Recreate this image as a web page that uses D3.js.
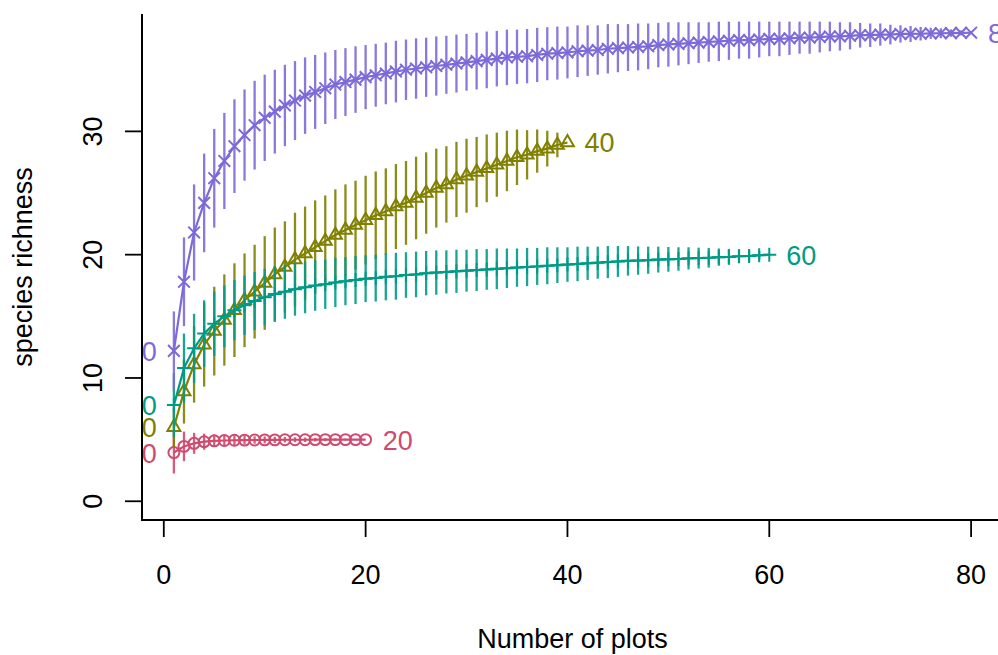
<!DOCTYPE html>
<html>
<head>
<meta charset="utf-8">
<script src="https://cdn.jsdelivr.net/npm/d3@7"></script>
<style>
  body { margin: 0; background: #fff; }
  svg  { display: block; }
  text { font-family: "Liberation Sans", Arial, Helvetica, sans-serif; }
</style>
</head>
<body>
<div id="chart"></div>
<script>
"use strict";

// ── Data ──────────────────────────────────────────────────────────────────────
// richness = mean species richness for 1..N plots, bar = half length of the bar
const rich20 = [3.95, 4.45, 4.7, 4.83, 4.9, 4.93, 4.95, 4.96, 4.97, 4.98,
                4.98, 4.99, 4.99, 4.99, 5.0, 5.0, 5.0, 5.0, 5.0, 5.0];
const bar20  = [1.7, 1.2, 0.85, 0.65, 0.5, 0.45, 0.4, 0.35, 0.3, 0.28,
                0.25, 0.22, 0.2, 0.18, 0.15, 0.12, 0.1, 0.08, 0.05, 0];

const rich40 = [6.0, 8.9, 11.1, 12.7, 13.8, 14.7, 15.5, 16.3, 17.0, 17.7,
                18.4, 19.0, 19.6, 20.1, 20.6, 21.1, 21.6, 22.0, 22.4, 22.8,
                23.2, 23.5, 23.9, 24.2, 24.6, 25.0, 25.4, 25.7, 26.1, 26.4,
                26.7, 27.0, 27.3, 27.6, 27.9, 28.1, 28.4, 28.6, 28.9, 29.1];
const bar40  = [1.6, 2.6, 3.1, 3.4, 3.6, 3.7, 3.8, 3.8, 3.8, 3.8,
                3.8, 3.7, 3.8, 3.8, 3.8, 3.7, 3.7, 3.7, 3.6, 3.6,
                3.55, 3.5, 3.45, 3.4, 3.35, 3.3, 3.2, 3.1, 3.05, 3.0,
                2.85, 2.75, 2.6, 2.45, 2.25, 2.0, 1.75, 1.45, 1.0, 0];

const rich60 = [7.8, 10.8, 12.4, 13.6, 14.4, 15.0, 15.5, 15.9, 16.25, 16.55,
                16.8, 17.0, 17.2, 17.35, 17.5, 17.6, 17.75, 17.85, 17.95, 18.05,
                18.1, 18.2, 18.25, 18.35, 18.4, 18.5, 18.55, 18.6, 18.65, 18.7,
                18.75, 18.8, 18.85, 18.9, 18.95, 19.0, 19.05, 19.1, 19.15, 19.2,
                19.25, 19.3, 19.35, 19.4, 19.45, 19.5, 19.52, 19.55, 19.6, 19.62,
                19.65, 19.7, 19.72, 19.75, 19.8, 19.82, 19.87, 19.9, 19.95, 20.0];
const bar60  = [2.6, 2.8, 2.8, 2.7, 2.6, 2.5, 2.45, 2.4, 2.35, 2.3,
                2.25, 2.2, 2.15, 2.1, 2.05, 2.0, 2.0, 1.95, 1.95, 1.9,
                1.9, 1.9, 1.9, 1.85, 1.85, 1.8, 1.8, 1.75, 1.75, 1.7,
                1.7, 1.65, 1.65, 1.6, 1.55, 1.55, 1.5, 1.5, 1.45, 1.4,
                1.4, 1.35, 1.3, 1.3, 1.25, 1.2, 1.15, 1.1, 1.05, 1.0,
                0.95, 0.9, 0.85, 0.8, 0.7, 0.65, 0.55, 0.45, 0.35, 0];

const rich80 = [12.2, 17.8, 21.8, 24.2, 26.2, 27.6, 28.8, 29.7, 30.5, 31.1,
                31.6, 32.1, 32.5, 32.9, 33.2, 33.5, 33.8, 34.0, 34.2, 34.4,
                34.55, 34.7, 34.85, 35.0, 35.1, 35.2, 35.3, 35.4, 35.5, 35.6,
                35.7, 35.8, 35.9, 36.0, 36.05, 36.1, 36.2, 36.3, 36.35, 36.4,
                36.5, 36.55, 36.6, 36.7, 36.75, 36.8, 36.85, 36.9, 37.0, 37.05,
                37.1, 37.15, 37.2, 37.25, 37.3, 37.35, 37.4, 37.4, 37.45, 37.5,
                37.5, 37.55, 37.6, 37.6, 37.65, 37.7, 37.7, 37.75, 37.8, 37.8,
                37.85, 37.85, 37.9, 37.9, 37.92, 37.95, 37.96, 37.97, 37.99, 38.0];
const bar80  = [3.2, 3.6, 3.9, 4.0, 4.0, 3.9, 3.8, 3.7, 3.6, 3.5,
                3.4, 3.3, 3.2, 3.1, 3.0, 2.9, 2.8, 2.75, 2.7, 2.6,
                2.55, 2.5, 2.5, 2.45, 2.45, 2.4, 2.4, 2.35, 2.35, 2.3,
                2.3, 2.3, 2.25, 2.25, 2.2, 2.2, 2.2, 2.15, 2.15, 2.1,
                2.1, 2.05, 2.0, 2.0, 1.95, 1.9, 1.9, 1.85, 1.8, 1.8,
                1.75, 1.7, 1.65, 1.6, 1.6, 1.55, 1.5, 1.5, 1.45, 1.4,
                1.4, 1.35, 1.3, 1.3, 1.25, 1.2, 1.15, 1.1, 1.0, 0.95,
                0.9, 0.8, 0.7, 0.65, 0.55, 0.45, 0.4, 0.3, 0.2, 0];

const seriesLabels = ["20", "40", "60", "80"];
const seriesRich   = [rich20, rich40, rich60, rich80];
const seriesBars   = [bar20, bar40, bar60, bar80];
const seriesColors = ["#cf4a6f", "#808000", "#009b87", "#7b6ad8"];
const seriesShapes = ["circle", "triangle", "plus", "cross"];

const xTicks = [0, 20, 40, 60, 80];
const yTicks = [0, 10, 20, 30];

// ── Layout ────────────────────────────────────────────────────────────────────
const W = 998, H = 655;
const P = { left: 142, right: 1003, top: 14, bottom: 520 };   // plot region (R style)
const FONT = 27;

const svg = d3.select("#chart").append("svg")
  .attr("width", W).attr("height", H);

// R pads both ranges by 4 %
const nMax  = d3.max(seriesRich, (r) => r.length);
const yMax  = d3.max(seriesRich, (r) => d3.max(r));
const padX  = (nMax - 1) * 0.04;
const padY  = yMax * 0.04;

const x = d3.scaleLinear().domain([1 - padX, nMax + padX]).range([P.left, P.right]);
const y = d3.scaleLinear().domain([0 - padY, yMax + padY]).range([P.bottom, P.top]);

svg.append("defs").append("clipPath").attr("id", "plot-clip")
  .append("rect")
  .attr("x", P.left).attr("y", P.top)
  .attr("width", P.right - P.left).attr("height", P.bottom - P.top);

// ── Marker shapes (R pch 1, 2, 3, 4) ─────────────────────────────────────────
const shapes = {
  circle:   d3.symbolCircle,
  triangle: { draw(ctx, size) {
    const r = Math.sqrt(size);
    ctx.moveTo(0, -r);
    ctx.lineTo(r * 0.866, r * 0.5);
    ctx.lineTo(-r * 0.866, r * 0.5);
    ctx.closePath();
  } },
  plus: { draw(ctx, size) {
    const r = Math.sqrt(size);
    ctx.moveTo(-r, 0); ctx.lineTo(r, 0);
    ctx.moveTo(0, -r); ctx.lineTo(0, r);
  } },
  cross: { draw(ctx, size) {
    const r = Math.sqrt(size);
    ctx.moveTo(-r, -r); ctx.lineTo(r, r);
    ctx.moveTo(-r, r);  ctx.lineTo(r, -r);
  } },
};
const shapeSize = { circle: Math.PI * 30, triangle: 56, plus: 49, cross: 34 };

// ── Series ────────────────────────────────────────────────────────────────────
const plotG = svg.append("g").attr("clip-path", "url(#plot-clip)");
const line  = d3.line().x((d) => x(d.n)).y((d) => y(d.s));

seriesLabels.forEach((label, i) => {
  const col  = seriesColors[i];
  const pts  = seriesRich[i].map((s, k) => ({ n: k + 1, s, h: seriesBars[i][k] }));
  const g    = plotG.append("g").attr("class", "series s" + label);

  g.selectAll("line.bar").data(pts.filter((d) => d.h > 0)).join("line")
    .attr("class", "bar")
    .attr("x1", (d) => x(d.n)).attr("x2", (d) => x(d.n))
    .attr("y1", (d) => y(d.s - d.h)).attr("y2", (d) => y(d.s + d.h))
    .attr("stroke", col).attr("stroke-width", 2.3).attr("stroke-opacity", 0.9);

  g.append("path").datum(pts)
    .attr("d", line)
    .attr("fill", "none").attr("stroke", col).attr("stroke-width", 2.2);

  const sym = d3.symbol().type(shapes[seriesShapes[i]]).size(shapeSize[seriesShapes[i]]);
  g.selectAll("path.pt").data(pts).join("path")
    .attr("class", "pt")
    .attr("transform", (d) => `translate(${x(d.n)},${y(d.s)})`)
    .attr("d", sym)
    .attr("fill", "none").attr("stroke", col).attr("stroke-width", 2);

  // labels at both ends of the curve (left one gets clipped by the plot region)
  const first = pts[0], last = pts[pts.length - 1];
  g.append("text")
    .attr("x", x(first.n) - 17).attr("y", y(first.s) + 10)
    .attr("text-anchor", "end").attr("font-size", FONT).attr("fill", col)
    .text(label);
  g.append("text")
    .attr("x", x(last.n) + 17).attr("y", y(last.s) + 10)
    .attr("text-anchor", "start").attr("font-size", FONT).attr("fill", col)
    .text(label);
});

// ── Axes (bty = "l") ─────────────────────────────────────────────────────────
const axisG = svg.append("g").attr("stroke", "#000").attr("stroke-width", 2);
axisG.append("path")
  .attr("d", `M${P.left},${P.top}V${P.bottom}H${P.right}`)
  .attr("fill", "none");

axisG.selectAll("line.xt").data(xTicks).join("line")
  .attr("class", "xt")
  .attr("x1", (d) => x(d)).attr("x2", (d) => x(d))
  .attr("y1", P.bottom).attr("y2", P.bottom + 17)
  .attr("stroke-width", 1.8);

axisG.selectAll("line.yt").data(yTicks).join("line")
  .attr("class", "yt")
  .attr("x1", P.left - 17).attr("x2", P.left)
  .attr("y1", (d) => y(d)).attr("y2", (d) => y(d))
  .attr("stroke-width", 1.8);

svg.selectAll("text.xl").data(xTicks).join("text")
  .attr("class", "xl")
  .attr("x", (d) => x(d)).attr("y", 584)
  .attr("text-anchor", "middle").attr("font-size", FONT)
  .text((d) => d);

svg.selectAll("text.yl").data(yTicks).join("text")
  .attr("class", "yl")
  .attr("transform", (d) => `translate(102,${y(d)}) rotate(-90)`)
  .attr("text-anchor", "middle").attr("font-size", FONT)
  .text((d) => d);

svg.append("text")
  .attr("x", (P.left + P.right) / 2).attr("y", 648)
  .attr("text-anchor", "middle").attr("font-size", FONT)
  .text("Number of plots");

svg.append("text")
  .attr("transform", `translate(32,${(P.top + P.bottom) / 2}) rotate(-90)`)
  .attr("text-anchor", "middle").attr("font-size", FONT)
  .text("species richness");
</script>
</body>
</html>
